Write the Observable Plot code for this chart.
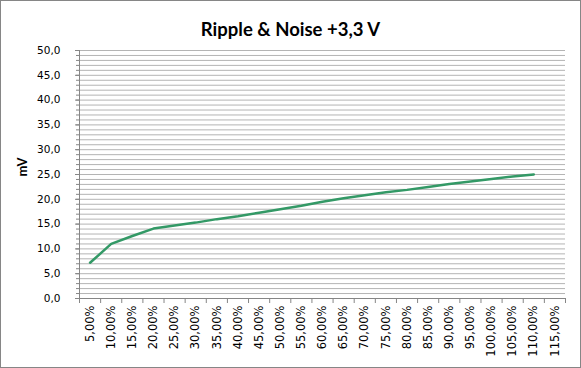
<!DOCTYPE html>
<html><head><meta charset="utf-8">
<script src="https://cdn.jsdelivr.net/npm/d3@7"></script>
<script src="https://cdn.jsdelivr.net/npm/@observablehq/plot@0.6"></script>
<style>
body{margin:0;background:#fff}
#wrap{position:relative;width:581px;height:368px;overflow:hidden;background:#fff}
#title{position:absolute;left:0;top:20px;width:581px;text-align:center;font:bold 18.5px Lato,sans-serif;line-height:18px;color:#000}
#ylab{position:absolute;left:2px;top:160px;width:40px;height:14px;text-align:center;font:bold 13px Lato,sans-serif;line-height:14px;transform:rotate(-90deg);color:#000}
#chart{position:absolute;left:0;top:0}
#frame{position:absolute;left:0;top:0;width:581px;height:368px;box-sizing:border-box;border:1px solid #868686;pointer-events:none}
</style></head><body>
<div id="wrap"><div id="chart"></div><div id="title">Ripple &amp; Noise +3,3 V</div><div id="ylab">mV</div><div id="frame"></div></div>
<script>
// x categories (load, %)
const categories = [5,10,15,20,25,30,35,40,45,50,55,60,65,70,75,80,85,90,95,100,105,110,115];
const xLabels = ["5,00%","10,00%","15,00%","20,00%","25,00%","30,00%","35,00%","40,00%","45,00%","50,00%","55,00%","60,00%","65,00%","70,00%","75,00%","80,00%","85,00%","90,00%","95,00%","100,00%","105,00%","110,00%","115,00%"];
// measured series
const loads  = [5,10,15,20,25,30,35,40,45,50,55,60,65,70,75,80,85,90,95,100,105,110];
const ripple = [7.2,11.0,12.6,14.1,14.7,15.3,16.0,16.6,17.3,18.0,18.7,19.5,20.2,20.8,21.4,21.9,22.5,23.1,23.6,24.1,24.6,25.0];
// y axis ticks
const yTicks = [0,5,10,15,20,25,30,35,40,45,50];
const yMinor = d3.range(0,51,1);

const half = 2.5;
const boundaries = categories.map(c => c - half).concat([categories[categories.length-1] + half]);
const labelOf = new Map(categories.map((c,i)=>[c, xLabels[i]]));
const axisColor = "#868686";

const chart = Plot.plot({
  width:581, height:368,
  marginLeft:79, marginRight:16, marginTop:50, marginBottom:70,
  style:{fontFamily:"'DejaVu Sans', sans-serif", fontSize:"10.5px", color:"#000", background:"transparent", overflow:"visible"},
  x:{domain:[boundaries[0], boundaries[boundaries.length-1]], axis:null},
  y:{domain:[0,50], axis:null},
  marks:[
    Plot.gridY(yMinor, {stroke:"#b4b4b4", strokeOpacity:1, strokeWidth:1}),
    Plot.axisY(yMinor, {tickSize:3, tickFormat:()=>"", stroke:axisColor, label:null}),
    Plot.axisY(yTicks, {tickSize:4, tickPadding:15, tickFormat:d=>d.toFixed(1).replace(".",","), stroke:axisColor, label:null, fontSize:10.5}),
    Plot.ruleX([boundaries[0]], {stroke:axisColor}),
    Plot.ruleY([0], {stroke:axisColor}),
    Plot.axisX(boundaries, {tickSize:5, tickFormat:()=>"", stroke:axisColor, label:null}),
    Plot.axisX(categories, {tickSize:0, tickPadding:7, tickRotate:-90, tickFormat:d=>labelOf.get(d), label:null, fontSize:11.5}),
    Plot.line(ripple, {x:(d,i)=>loads[i], y:d=>d, stroke:"#339966", strokeWidth:2.5})
  ]
});
document.getElementById("chart").appendChild(chart);
</script>
</body></html>
